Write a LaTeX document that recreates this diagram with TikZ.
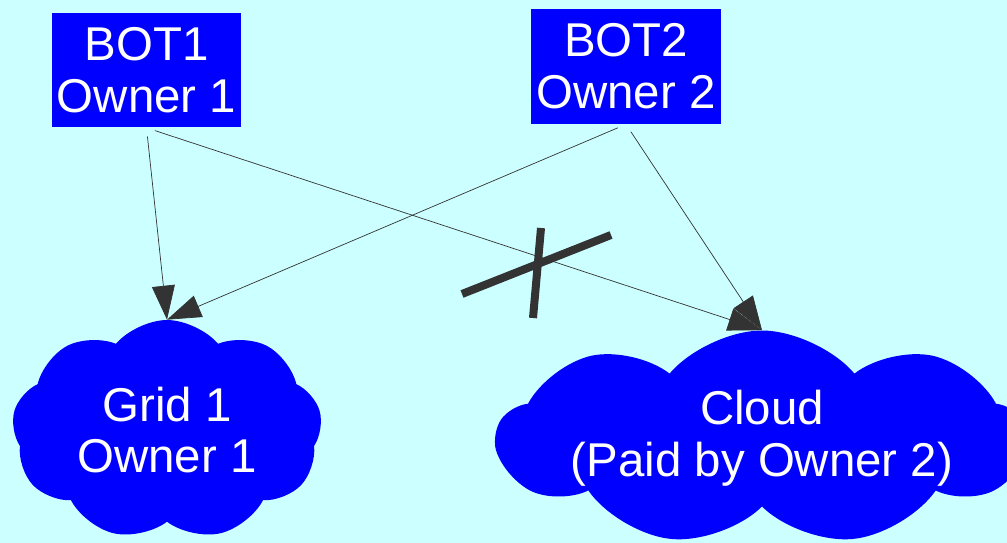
\documentclass[tikz,border=0pt]{standalone}
\usepackage{fontspec}
\setmainfont{Liberation Sans}
\usetikzlibrary{shapes.symbols,arrows.meta}
\definecolor{sky}{RGB}{204,255,255}
\definecolor{ink}{RGB}{51,51,51}
\begin{document}
\begin{tikzpicture}[x=0.02cm,y=-0.02cm,>={Triangle[length=0.68cm,width=0.46cm]},
	font=\fontsize{27}{29.5}\selectfont, line join=round, line cap=round]
	\tikzset{botbox/.style={fill=blue,text=white,align=center,inner sep=0pt,
			minimum width=3.8cm,minimum height=2.3cm},
		puff/.style={cloud,cloud puffs=9,cloud puff arc=100,cloud ignores aspect,fill=blue,
			text=white,align=center,inner sep=0pt}}
	\useasboundingbox (0,0) rectangle (1007,543);
	\clip (0,0) rectangle (1007,543);
	\fill[sky] (0,0) rectangle (1007,543); % achtergrond
	\node[botbox] (bot1) at (146.5,70) {BOT1\\Owner 1};
	\node[botbox] (bot2) at (626,66.5) {BOT2\\Owner 2};
	\node[puff,minimum width=6.2cm,minimum height=4.4cm] (grid) at (167,430) {Grid 1\\Owner 1};
	\node[puff,minimum width=9.8cm,minimum height=4.3cm] (cloud) at (762,438) {Cloud\\(Paid by Owner 2)};
	\draw[->,ink,shorten <=0.18cm] (bot1.south) -- (grid.north);
	\draw[->,ink,shorten <=0.18cm] (bot1.south) -- (cloud.north);
	\draw[->,ink,shorten <=0.18cm] (bot2.south) -- (grid.north);
	\draw[->,ink,shorten <=0.18cm] (bot2.south) -- (cloud.north);
	%\node at (536,273) {X};
	\draw[ink,line width=0.16cm,line cap=butt] (462,294)--(611,235) (533,318)--(541,228);
\end{tikzpicture}
\end{document}
